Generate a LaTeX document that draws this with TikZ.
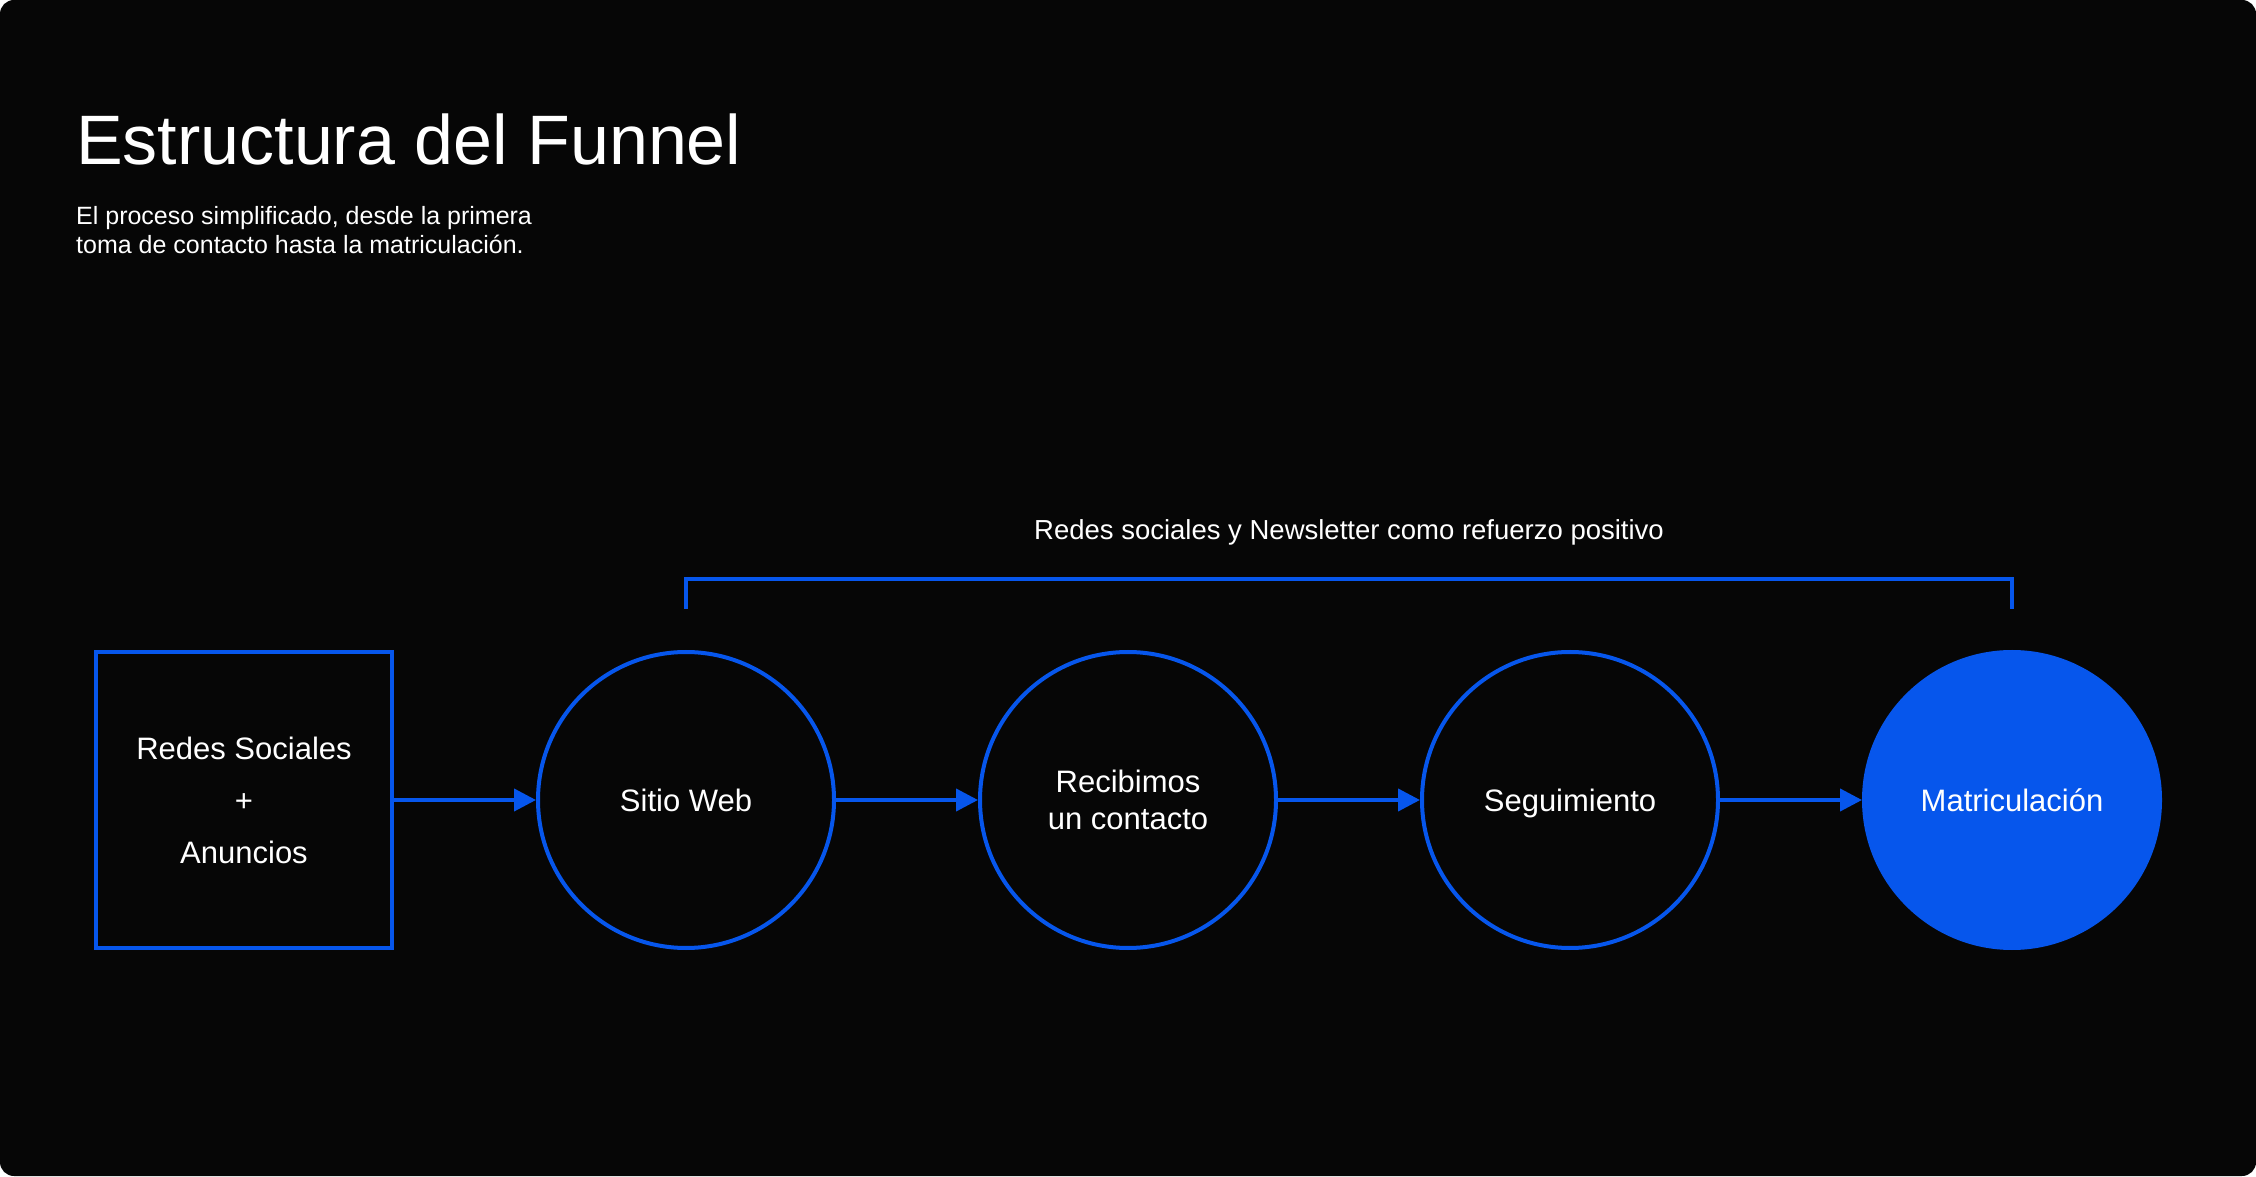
\documentclass[tikz,border=0pt]{standalone}
\usepackage{fontspec}
\setmainfont{Liberation Sans}
\usepackage{xcolor}
\usetikzlibrary{positioning,arrows.meta,calc}
\definecolor{funblue}{HTML}{0656EC}
\definecolor{funbg}{HTML}{060606}

\begin{document}
\begin{tikzpicture}[
  x=1pt, y=1pt,
  node distance=142pt,
  stage/.style={draw=funblue, line width=4pt, minimum size=296pt, inner sep=0pt,
                align=center, text=white, font=\fontsize{31}{37}\selectfont},
  src/.style={stage, rectangle, font=\fontsize{31}{52}\selectfont},
  circ/.style={stage, circle},
  goal/.style={circ, fill=funblue},
  txt/.style={text=white, inner sep=0pt},
  ar/.style={-{Triangle[length=22pt,width=22pt]}, line width=4pt, draw=funblue},
  brk/.style={line width=4pt, draw=funblue}
]
% card
\fill[white] (0,0) rectangle (2256,1176);
\fill[funbg, rounded corners=14pt] (0,0) rectangle (2256,1176);

% heading
\node[txt, anchor=base west, font=\fontsize{70}{84}\selectfont] (title) at (76,1011) {Estructura del Funnel};
\node[txt, anchor=base west, align=left, font=\fontsize{25}{29.5}\selectfont] (sub) at (76,922)
  {El proceso simplificado, desde la primera\\toma de contacto hasta la matriculación.};

% funnel stages
\node[src] (redes) at (244,376) {Redes Sociales\\+\\Anuncios};
\node[circ, right=of redes] (web) {Sitio Web};
\node[circ, right=of web] (contacto) {Recibimos\\un contacto};
\node[circ, right=of contacto, text depth=0pt] (seg) {Seguimiento};
\node[goal, right=of seg] (matric) {Matriculación};

\draw[ar] (redes) -- (web);
\draw[ar] (web) -- (contacto);
\draw[ar] (contacto) -- (seg);
\draw[ar] (seg) -- (matric);

% reinforcement bracket
\draw[brk] ([yshift=41pt]web.north) -- ([yshift=71pt]web.north) -| ([yshift=41pt]matric.north);
\node[txt, font=\fontsize{27.5}{32}\selectfont] (refuerzo) at ($(web.north)!0.5!(matric.north)+(0,118)$)
  {Redes sociales y Newsletter como refuerzo positivo};
\end{tikzpicture}
\end{document}
